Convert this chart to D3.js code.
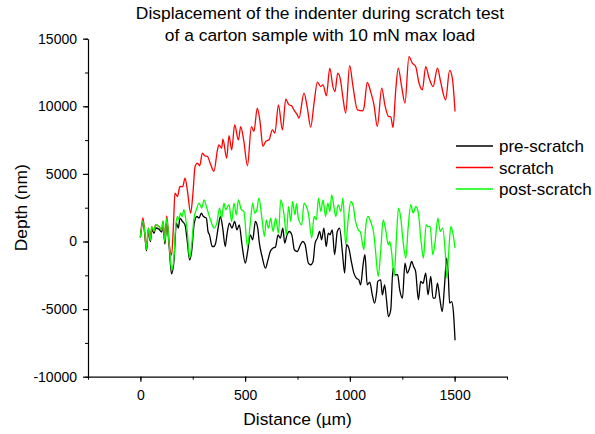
<!DOCTYPE html>
<html>
<head>
<meta charset="utf-8">
<script src="https://cdn.jsdelivr.net/npm/d3@7"></script>
<style>
  body { margin: 0; background: #fff; }
  svg { display: block; font-family: Arial, "Liberation Sans", sans-serif; }
</style>
</head>
<body>
<svg id="fig" width="595" height="434"></svg>
<script>
// [distance (µm), depth (nm)]
const preScratch = [
  [0,300],[12,1400],[22,400],[29,-700],[38,800],[48,0],[54,900],[65,600],[73,1000],[89,900],
  [102,700],[108,1300],[117,-200],[126,1500],[137,-300],[149,-2400],[160,-1500],[172,1360],[181,990],[189,1730],
  [201,1480],[213,1230],[224,0],[235,-1360],[245,-700],[256,1230],[269,1850],[280,1730],[291,2100],[301,1850],
  [315,1730],[323,740],[330,490],[343,-370],[350,-370],[358,-200],[371,990],[382,1850],[393,990],[405,-370],
  [413,490],[425,1360],[437,990],[450,1480],[461,860],[472,1230],[485,-240],[501,-1600],[512,-740],[525,490],
  [536,120],[549,1480],[560,1000],[568,-120],[581,-1110],[597,-1970],[609,-1360],[620,-740],[632,-490],[645,-400],
  [657,490],[668,250],[680,990],[689,-120],[700,490],[711,740],[723,490],[735,-610],[749,-740],[764,-240],
  [775,0],[786,-200],[802,-1600],[813,-1720],[824,-1500],[834,-120],[845,250],[856,740],[865,120],[876,990],
  [887,-370],[897,620],[905,500],[916,860],[927,-980],[940,740],[951,990],[964,-740],[975,-2340],[984,-240],
  [995,-490],[1007,-1480],[1019,-2340],[1031,-2710],[1043,-2840],[1051,-3210],[1064,-1600],[1072,-980],[1083,-3210],[1095,-3000],
  [1107,-3940],[1118,-4560],[1128,-3700],[1133,-2950],[1147,-2840],[1155,-3950],[1166,-3210],[1174,-4190],[1184,-5550],[1195,-5060],
  [1206,-1970],[1215,-2460],[1228,-2460],[1238,-3580],[1251,-4190],[1263,-1600],[1274,-2340],[1285,-1970],[1295,-1480],[1304,-1850],
  [1314,-2220],[1327,-4310],[1338,-2950],[1349,-3100],[1362,-2340],[1373,-3940],[1386,-2590],[1397,-4190],[1407,-4190],[1418,-3080],
  [1429,-4190],[1441,-5180],[1452,-3210],[1462,-1230],[1470,-2590],[1476,-4560],[1486,-4440],[1494,-5180],[1502,-7300]
];

const scratch = [
  [0,300],[12,1750],[22,500],[29,-600],[38,1000],[48,100],[54,1100],[65,750],[73,1250],[89,1100],
  [102,850],[108,1500],[117,0],[126,1900],[137,-100],[149,-1000],[158,1250],[165,3580],[177,3330],[189,4070],
  [202,4050],[213,4690],[224,3820],[240,2100],[251,3580],[261,5550],[272,5800],[283,5600],[296,6540],[307,6340],
  [320,6290],[336,5670],[351,5180],[368,6780],[375,7150],[388,6910],[394,7570],[412,6170],[423,7820],[436,6780],
  [450,8630],[468,7520],[479,8500],[494,7400],[511,5600],[530,8500],[542,8140],[558,9870],[571,8880],[585,7030],
  [598,7400],[614,7520],[630,8260],[642,8020],[659,10110],[678,8260],[694,10530],[709,10110],[722,10040],[733,9740],
  [749,9370],[757,9130],[781,10980],[797,9870],[813,8460],[829,10240],[845,11790],[861,11460],[872,11590],[888,10780],
  [904,12830],[919,11460],[929,11090],[942,12460],[955,11960],[967,10610],[980,9500],[999,13000],[1015,11460],[1036,9740],
  [1060,9670],[1067,9870],[1083,11760],[1099,11090],[1115,10110],[1131,8500],[1152,11350],[1167,10110],[1184,9250],[1195,9220],
  [1206,8430],[1219,11220],[1231,12830],[1247,11460],[1263,10240],[1282,13680],[1298,13190],[1314,12940],[1330,11720],[1346,11220],
  [1362,12940],[1378,12090],[1397,11460],[1418,12830],[1433,11830],[1457,10480],[1476,12650],[1489,12090],[1502,9620]
];

const postScratch = [
  [0,300],[12,1500],[22,500],[29,-600],[38,1000],[48,100],[54,1100],[65,750],[73,1250],[89,1100],
  [102,850],[108,1500],[117,0],[126,1700],[137,-100],[149,-2100],[160,-1250],[168,1000],[177,1850],[182,1600],
  [192,2100],[199,1850],[208,2350],[216,1700],[224,740],[235,-1230],[245,-240],[256,1730],[267,2340],[280,2840],
  [293,2470],[304,3080],[315,2590],[327,1970],[340,1360],[351,990],[364,1300],[378,2470],[388,1730],[399,2840],
  [407,2350],[423,2720],[436,1480],[447,2840],[458,1970],[468,3080],[482,2350],[494,2220],[511,-370],[524,1230],
  [536,2840],[546,2100],[556,2350],[566,3210],[580,1730],[592,370],[601,1600],[611,990],[622,1730],[633,740],
  [646,1730],[659,620],[670,3080],[686,1970],[697,490],[707,2590],[718,1480],[726,2960],[738,1970],[745,2800],
  [754,1730],[770,1230],[781,2840],[792,2600],[802,2100],[818,250],[829,1850],[840,1600],[850,3210],[861,2220],
  [872,3080],[884,1850],[895,2840],[905,2200],[913,3450],[925,2470],[933,1850],[944,2710],[957,2220],[967,3210],
  [980,-240],[991,1480],[1004,2960],[1015,2700],[1027,1480],[1040,860],[1050,700],[1067,-610],[1075,990],[1086,1850],
  [1099,1480],[1115,490],[1123,-800],[1135,-2590],[1147,-740],[1159,1600],[1172,740],[1183,-240],[1190,0],[1199,-740],
  [1211,-2590],[1223,490],[1232,2470],[1243,1730],[1254,0],[1267,-1230],[1278,990],[1291,2720],[1302,2100],[1315,2590],
  [1327,2100],[1340,0],[1351,-1230],[1364,1230],[1374,1100],[1383,1110],[1396,-980],[1407,0],[1420,1730],[1431,740],
  [1443,990],[1455,-740],[1463,-2710],[1471,-980],[1482,1110],[1493,490],[1502,-490]
];

const seriesNames = ["pre-scratch", "scratch", "post-scratch"];
const seriesColors = ["#000000", "#ff0000", "#00ff00"];
const seriesData = [preScratch, scratch, postScratch];

const xTicks = [0, 500, 1000, 1500];
const yTicks = [-10000, -5000, 0, 5000, 10000, 15000];
const titleLines = ["Displacement of the indenter during scratch test", "of a carton sample with 10 mN max load"];

const svg = d3.select("#fig");

const xScale = d3.scaleLinear().domain([-250, 1750]).range([88, 507]);
const yScale = d3.scaleLinear().domain([-10000, 15000]).range([376.7, 38.7]);

// title
svg.append("g")
  .selectAll("text")
  .data(titleLines)
  .enter()
  .append("text")
  .attr("x", 320)
  .attr("y", (d, i) => 19 + i * 22)
  .attr("text-anchor", "middle")
  .attr("font-size", 17.4)
  .text(d => d);

// minor ticks first, then major axis on top
svg.append("g")
  .attr("transform", `translate(0,${yScale(-10000)})`)
  .call(d3.axisBottom(xScale).tickValues(d3.range(-250, 1751, 250)).tickSize(3).tickFormat(""))
  .call(g => g.select(".domain").remove());
svg.append("g")
  .attr("transform", `translate(${xScale(-250)},0)`)
  .call(d3.axisLeft(yScale).tickValues(d3.range(-10000, 15001, 2500)).tickSize(3).tickFormat(""))
  .call(g => g.select(".domain").remove());

const xAxis = svg.append("g")
  .attr("transform", `translate(0,${yScale(-10000)})`)
  .call(d3.axisBottom(xScale).tickValues(xTicks).tickSize(5).tickSizeOuter(0)
    .tickPadding(8).tickFormat(d => String(d)));
const yAxis = svg.append("g")
  .attr("transform", `translate(${xScale(-250)},0)`)
  .call(d3.axisLeft(yScale).tickValues(yTicks).tickSize(5).tickSizeOuter(0)
    .tickPadding(6).tickFormat(d => String(d)));

[xAxis, yAxis].forEach(ax => {
  ax.attr("font-family", null).attr("font-size", 14);
  ax.selectAll("path, line").attr("stroke", "#000").attr("stroke-width", 1.2);
  ax.selectAll("text").attr("fill", "#000");
});

// axis titles
svg.append("text")
  .attr("x", (xScale.range()[0] + xScale.range()[1]) / 2)
  .attr("y", 425)
  .attr("text-anchor", "middle")
  .attr("font-size", 17.4)
  .text("Distance (µm)");
svg.append("text")
  .attr("transform", `translate(27,${(yScale.range()[0] + yScale.range()[1]) / 2}) rotate(-90)`)
  .attr("text-anchor", "middle")
  .attr("font-size", 17.4)
  .text("Depth (nm)");

// lines
const line = d3.line()
  .x(d => xScale(d[0]))
  .y(d => yScale(d[1]))
  .curve(d3.curveMonotoneX);

svg.append("g")
  .selectAll("path")
  .data(seriesData)
  .enter()
  .append("path")
  .attr("d", d => line(d))
  .attr("fill", "none")
  .attr("stroke", (d, i) => seriesColors[i])
  .attr("stroke-width", 1.3)
  .attr("stroke-linejoin", "round");

// legend
const legend = svg.append("g")
  .attr("class", "legend")
  .attr("transform", "translate(456,146)");

legend.selectAll("line")
  .data(seriesNames)
  .enter()
  .append("line")
  .attr("x1", 0)
  .attr("x2", 37)
  .attr("y1", (d, i) => i * 21.5)
  .attr("y2", (d, i) => i * 21.5)
  .attr("stroke", (d, i) => seriesColors[i])
  .attr("stroke-width", 1.3);

legend.selectAll("text")
  .data(seriesNames)
  .enter()
  .append("text")
  .attr("x", 43)
  .attr("y", (d, i) => i * 21.5 + 6)
  .attr("font-size", 17)
  .text(d => d);
</script>
</body>
</html>
